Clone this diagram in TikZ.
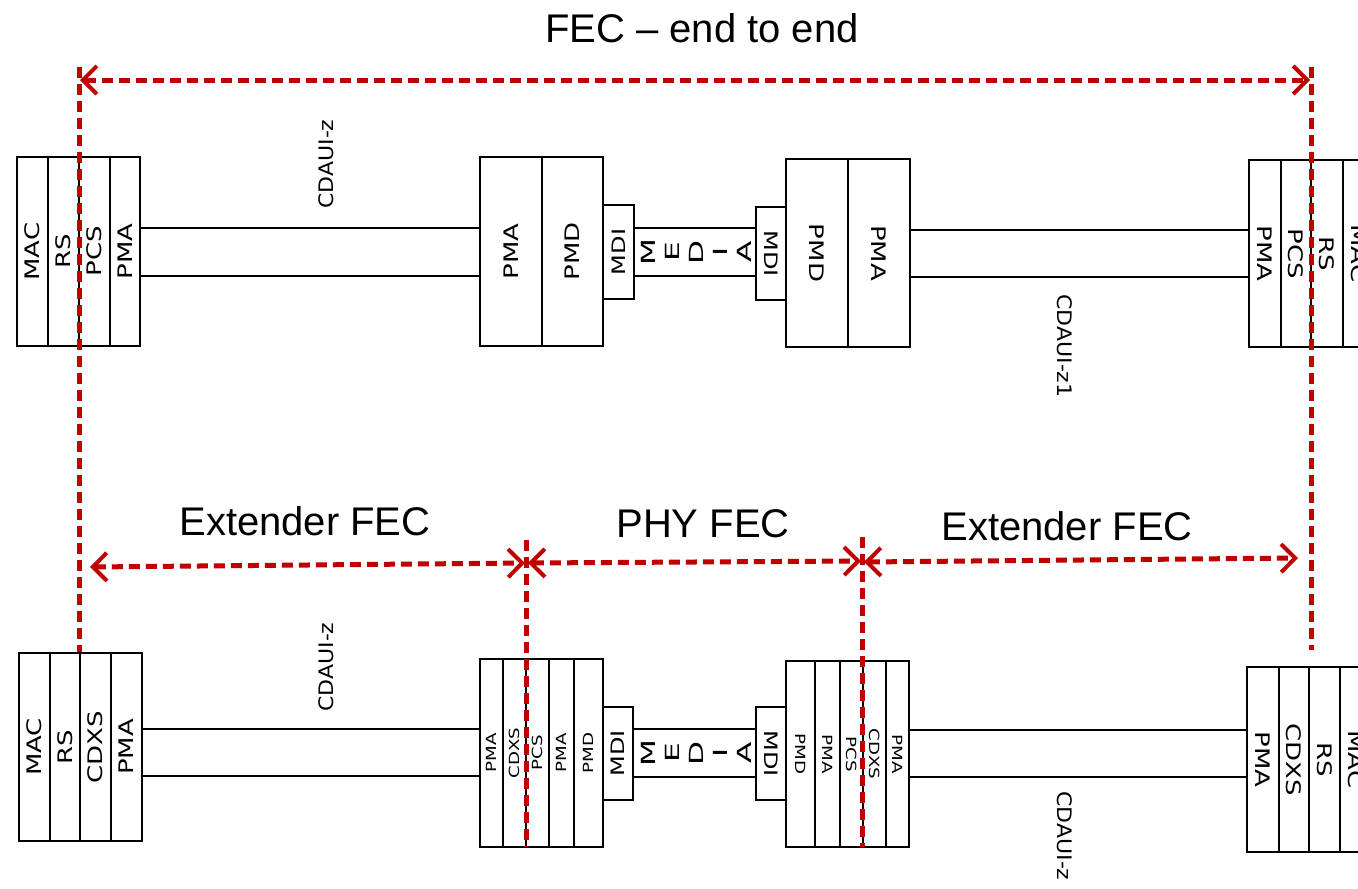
\documentclass[tikz,border=0pt]{standalone}
\usepackage{fontspec}
\usepackage{graphicx}
\setmainfont{Liberation Sans}
\newfontfamily\dv{DejaVu Sans}
\usetikzlibrary{arrows.meta}
\definecolor{fecred}{RGB}{192,0,0}
\newcommand{\vlab}[2]{\rotatebox{#1}{\scalebox{1.3}[1]{#2}}}
\newcommand{\mlet}[1]{\scalebox{1.6}[1]{#1}}
\tikzset{
  cell/.style={draw, line width=1.2pt, inner sep=0pt, anchor=center, font=\dv\fontsize{20}{24}\selectfont},
  small/.style={font=\dv\fontsize{14}{16}\selectfont},
  mdi/.style={font=\dv\fontsize{18.5}{20}\selectfont},
  wire/.style={line width=1.2pt},
  media/.style={font=\dv\fontsize{19.5}{24}\selectfont, align=center, rotate=90, inner sep=0pt},
  iface/.style={font=\dv\fontsize{20}{24}\selectfont, inner sep=0pt},
  fec/.style={fecred, line width=5pt, dash pattern=on 11pt off 6pt},
  fecarrow/.style={fec, {Straight Barb[length=14pt,width=28pt,line width=4pt]}-{Straight Barb[length=14pt,width=28pt,line width=4pt]}},
  title/.style={font=\fontsize{40}{44}\selectfont, inner sep=0pt, anchor=base}
}
\begin{document}
\begin{tikzpicture}[x=1pt,y=-1pt]
\useasboundingbox (0,0) rectangle (1358,889);
\clip (0,0) rectangle (1358,889);

% ---------------- top row ----------------
\node[cell, minimum width=31pt, minimum height=189pt] (tl1) at (32.5,251.5) {\vlab{90}{MAC}};
\node[cell, minimum width=31pt, minimum height=189pt] (tl2) at (63.5,251.5) {\vlab{90}{RS}};
\node[cell, minimum width=31pt, minimum height=189pt] (tl3) at (94.5,251.5) {\vlab{90}{PCS}};
\node[cell, minimum width=30pt, minimum height=189pt] (tl4) at (125,251.5) {\vlab{90}{PMA}};

\node[cell, minimum width=62pt, minimum height=189pt] (tm1) at (511,251.5) {\vlab{90}{PMA}};
\node[cell, minimum width=61pt, minimum height=189pt] (tm2) at (572.5,251.5) {\vlab{90}{PMD}};
\node[cell, mdi, minimum width=31pt, minimum height=94pt] (tmdi) at (618.5,252) {\vlab{90}{MDI}};

\node[cell, mdi, minimum width=30pt, minimum height=93pt] (tndi) at (771,253.5) {\vlab{-90}{MDI}};
\node[cell, minimum width=62pt, minimum height=188pt] (tn1) at (817,253) {\vlab{-90}{PMD}};
\node[cell, minimum width=62pt, minimum height=188pt] (tn2) at (879,253) {\vlab{-90}{PMA}};

\node[cell, minimum width=32pt, minimum height=187pt] (tr1) at (1265,253.5) {\vlab{-90}{PMA}};
\node[cell, minimum width=30pt, minimum height=187pt] (tr2) at (1296,253.5) {\vlab{-90}{PCS}};
\node[cell, minimum width=32pt, minimum height=187pt] (tr3) at (1327,253.5) {\vlab{-90}{RS}};
\node[cell, minimum width=31pt, minimum height=187pt] (tr4) at (1358.5,253.5) {\vlab{-90}{MAC}};

\draw[wire] (tl4.east |- 0,228) -- (tm1.west |- 0,228);
\draw[wire] (tl4.east |- 0,276) -- (tm1.west |- 0,276);
\draw[wire] (tmdi.east |- 0,228) -- (tndi.west |- 0,228);
\draw[wire] (tmdi.east |- 0,276) -- (tndi.west |- 0,276);
\draw[wire] (tn2.east |- 0,230) -- (tr1.west |- 0,230);
\draw[wire] (tn2.east |- 0,277) -- (tr1.west |- 0,277);

\node[media] (tmedia) at (696,252) {\mlet{M}\\\mlet{E}\\\mlet{D}\\\mlet{I}\\\mlet{A}};
\node[iface, rotate=90] (tcd1) at (326,164) {\scalebox{1.1}[1]{CDAUI-z}};
\node[iface, rotate=-90] (tcd2) at (1065,346) {\scalebox{1.1}[1]{CDAUI-z1}};

% ---------------- bottom row ----------------
\node[cell, minimum width=31pt, minimum height=188pt] (bl1) at (34.5,747) {\vlab{90}{MAC}};
\node[cell, minimum width=30pt, minimum height=188pt] (bl2) at (65,747) {\vlab{90}{RS}};
\node[cell, minimum width=31pt, minimum height=188pt] (bl3) at (95.5,747) {\vlab{90}{CDXS}};
\node[cell, minimum width=31pt, minimum height=188pt] (bl4) at (126.5,747) {\vlab{90}{PMA}};

\node[cell, small, minimum width=23pt, minimum height=188pt] (bm1) at (491.5,753) {\vlab{90}{PMA}};
\node[cell, small, minimum width=23pt, minimum height=188pt] (bm2) at (514.5,753) {\vlab{90}{CDXS}};
\node[cell, small, minimum width=23pt, minimum height=188pt] (bm3) at (537.5,753) {\vlab{90}{PCS}};
\node[cell, small, minimum width=25pt, minimum height=188pt] (bm4) at (561.5,753) {\vlab{90}{PMA}};
\node[cell, small, minimum width=29pt, minimum height=188pt] (bm5) at (588.5,753) {\vlab{90}{PMD}};
\node[cell, mdi, minimum width=30pt, minimum height=93pt] (bmdi) at (618,753.5) {\vlab{90}{MDI}};

\node[cell, mdi, minimum width=30pt, minimum height=93pt] (bndi) at (771,753.5) {\vlab{-90}{MDI}};
\node[cell, small, minimum width=29pt, minimum height=186pt] (bn1) at (800.5,754) {\vlab{-90}{PMD}};
\node[cell, small, minimum width=25pt, minimum height=186pt] (bn2) at (827.5,754) {\vlab{-90}{PMA}};
\node[cell, small, minimum width=23pt, minimum height=186pt] (bn3) at (851.5,754) {\vlab{-90}{PCS}};
\node[cell, small, minimum width=23pt, minimum height=186pt] (bn4) at (874.5,754) {\vlab{-90}{CDXS}};
\node[cell, small, minimum width=23pt, minimum height=186pt] (bn5) at (897.5,754) {\vlab{-90}{PMA}};

\node[cell, minimum width=32pt, minimum height=185pt] (br1) at (1263,759.5) {\vlab{-90}{PMA}};
\node[cell, minimum width=30pt, minimum height=185pt] (br2) at (1294,759.5) {\vlab{-90}{CDXS}};
\node[cell, minimum width=31pt, minimum height=185pt] (br3) at (1324.5,759.5) {\vlab{-90}{RS}};
\node[cell, minimum width=31pt, minimum height=185pt] (br4) at (1355.5,759.5) {\vlab{-90}{MAC}};

\draw[wire] (bl4.east |- 0,729) -- (bm1.west |- 0,729);
\draw[wire] (bl4.east |- 0,776) -- (bm1.west |- 0,776);
\draw[wire] (bmdi.east |- 0,729) -- (bndi.west |- 0,729);
\draw[wire] (bmdi.east |- 0,777) -- (bndi.west |- 0,777);
\draw[wire] (bn5.east |- 0,730) -- (br1.west |- 0,730);
\draw[wire] (bn5.east |- 0,777) -- (br1.west |- 0,777);

\node[media] (bmedia) at (696,753) {\mlet{M}\\\mlet{E}\\\mlet{D}\\\mlet{I}\\\mlet{A}};
\node[iface, rotate=90] (bcd1) at (326,667) {\scalebox{1.1}[1]{CDAUI-z}};
\node[iface, rotate=-90] (bcd2) at (1065,836) {\scalebox{1.1}[1]{CDAUI-z}};

% ---------------- FEC spans ----------------
\node[title] (t0) at (702,42) {FEC -- end to end};
\node[title] (t1) at (305,535) {Extender FEC};
\node[title] (t2) at (703,537) {PHY FEC};
\node[title] (t3) at (1067,540) {Extender FEC};

\coordinate (vl1) at (79,67);
\coordinate (vl2) at (79,652);
\coordinate (vr1) at (1311,67);
\coordinate (vr2) at (1311,650);
\coordinate (e1) at (80,80);
\coordinate (e2) at (1310,80);
\draw[fec] (vl1) -- (vl2);
\draw[fec] (vr1) -- (vr2);
\draw[fecarrow] (e1) -- (e2);

\coordinate (m1) at (526,540);
\coordinate (m2) at (526,847);
\coordinate (n1) at (862,537);
\coordinate (n2) at (862,847);
\draw[fec] (m1) -- (m2);
\draw[fec] (n1) -- (n2);

\coordinate (a1) at (90,567);
\coordinate (a2) at (525,563);
\coordinate (b1) at (528,563);
\coordinate (b2) at (861,561);
\coordinate (c1) at (864,562);
\coordinate (c2) at (1298,558);
\draw[fecarrow] (a1) -- (a2);
\draw[fecarrow] (b1) -- (b2);
\draw[fecarrow] (c1) -- (c2);
\end{tikzpicture}
\end{document}
